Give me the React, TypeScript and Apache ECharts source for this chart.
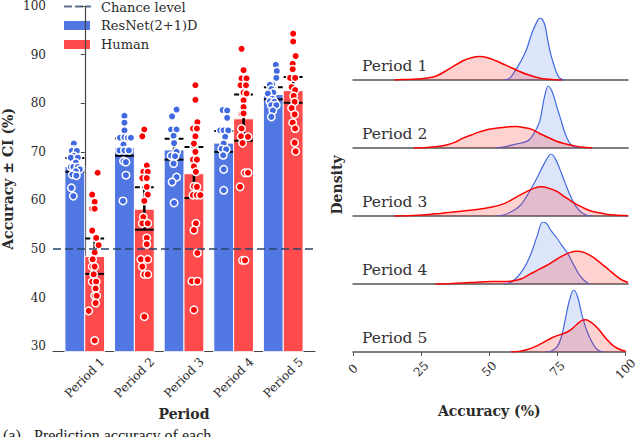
import React, { useEffect, useRef } from "react";
import * as echarts from "echarts";

const FONT = '"DejaVu Serif", serif';
const TEXT = "#2b2b2b";

const categories = ["Period 1", "Period 2", "Period 3", "Period 4", "Period 5"];
const yTicks = [30, 40, 50, 60, 70, 80, 90, 100];
const densityTicks = [0, 25, 50, 75, 100];
const chanceLevel = 50;

const resnetMean = [67.0, 70.9, 70.4, 71.8, 81.8];
const resnetCiLow = [65.9, 69.2, 68.4, 70.0, 80.8];
const resnetCiHigh = [68.75, 72.8, 72.7, 74.3, 83.3];
const humanMean = [48.5, 58.2, 65.5, 76.8, 82.6];
const humanCiLow = [44.9, 54.0, 60.5, 72.3, 80.1];
const humanCiHigh = [52.2, 62.7, 71.0, 81.8, 85.4];

// [accuracy, horizontal jitter in category units]
const resnetPoints = [
  [[71.7, -0.02], [70.5, -0.02], [70.2, -0.06], [70.2, 0.04], [69.2, -0.02], [68.8, -0.08], [68.8, 0.06], [67.8, 0.02], [66.9, -0.08], [66.9, -0.03], [66.9, 0.06], [66.4, 0.1], [66.0, 0.02], [65.3, -0.05], [65.1, 0.03], [62.6, -0.07], [60.9, -0.03]],
  [[77.4, 0], [76.0, 0], [74.4, 0], [72.9, -0.09], [73.0, 0], [72.9, 0.07], [72.9, 0.13], [71.5, -0.02], [70.3, -0.1], [70.3, 0], [70.3, 0.09], [68.1, -0.02], [67.9, 0.03], [65.2, 0.03], [59.9, -0.03]],
  [[78.7, 0.05], [77.3, -0.04], [74.6, -0.06], [74.6, 0.05], [73.3, -0.01], [71.8, 0], [70.0, 0.05], [69.2, -0.06], [69.1, 0.02], [67.6, -0.01], [64.8, 0.05], [63.8, -0.04], [59.5, 0]],
  [[78.6, -0.02], [78.5, 0.07], [77.0, 0.07], [74.4, -0.07], [74.4, 0], [74.4, 0.09], [73.1, 0.03], [71.7, 0], [70.6, -0.04], [70.5, 0.05], [69.3, -0.01], [66.4, 0], [62.1, 0]],
  [[87.9, 0.05], [86.6, 0.07], [85.2, 0.06], [83.9, -0.02], [83.8, -0.07], [82.9, -0.04], [82.2, 0], [82.0, -0.11], [80.9, -0.02], [80.4, -0.07], [80.3, 0.02], [79.6, -0.04], [79.6, 0.06], [78.5, -0.01], [77.2, -0.04]],
];

const humanPoints = [
  [[65.7, 0.06], [61.2, -0.05], [59.7, 0], [58.3, -0.05], [58.3, 0.0], [53.8, -0.05], [52.3, 0.03], [50.8, 0.08], [49.3, 0], [47.9, -0.04], [46.4, -0.05], [46.4, 0.0], [44.8, -0.02], [43.3, -0.05], [43.3, 0.03], [41.9, 0.02], [40.4, 0.0], [40.4, 0.04], [38.9, 0.02], [37.3, -0.12], [31.2, 0.0]],
  [[74.6, 0], [73.2, -0.04], [67.2, 0.05], [65.9, -0.02], [65.9, 0.07], [64.6, -0.04], [64.6, 0.05], [62.8, 0.05], [61.2, 0.07], [59.9, 0], [56.6, -0.02], [55.3, -0.04], [55.3, 0.07], [52.3, 0.05], [51.0, 0.05], [47.9, -0.07], [47.9, 0.07], [46.4, -0.04], [44.8, 0], [44.8, 0.07], [36.1, 0]],
  [[83.7, 0.03], [80.7, 0.03], [76.1, 0.07], [74.8, -0.02], [74.8, 0.06], [73.2, 0.03], [71.7, 0], [70.0, 0.03], [68.4, -0.02], [68.4, 0.06], [67.0, 0], [65.9, 0.04], [62.9, 0], [62.8, 0.06], [61.1, -0.02], [61.1, 0.06], [61.1, 0.13], [55.3, 0.04], [53.9, 0], [49.2, 0.07], [43.4, -0.04], [43.4, 0.07], [37.5, 0]],
  [[91.2, -0.04], [86.8, 0], [85.1, -0.04], [85.1, 0.06], [83.7, -0.06], [83.7, 0.05], [82.2, 0], [82.0, 0.06], [80.6, 0], [79.2, 0], [77.8, -0.04], [77.9, 0], [74.8, -0.04], [73.2, -0.05], [73.1, 0.09], [71.8, -0.02], [65.7, 0.03], [65.7, 0.09], [62.8, -0.07], [47.7, -0.02], [47.7, 0.03]],
  [[94.3, 0], [92.7, 0], [89.7, 0.05], [88.1, -0.01], [87.0, -0.01], [85.2, -0.06], [85.2, 0.04], [83.3, -0.03], [82.7, 0.04], [81.5, 0.01], [80.3, 0.03], [79.0, -0.03], [77.7, 0.03], [76.0, -0.01], [74.8, 0.04], [71.9, 0.03], [70.1, 0.05]],
];

// Ridge densities: [accuracy, height relative to the ResNet peak of that period]
const resnetDensity = [
  [[55, 0], [57, 0.03], [59, 0.15], [61, 0.3], [63, 0.48], [65, 0.75], [67, 0.95], [68, 1.0], [69, 0.97], [70, 0.85], [71, 0.6], [72, 0.4], [73, 0.25], [74, 0.12], [75, 0.04], [76, 0.01], [77, 0]],
  [[52, 0], [55, 0.02], [58, 0.05], [60, 0.07], [62, 0.09], [64, 0.13], [66, 0.25], [68, 0.45], [69.5, 0.8], [71, 1.0], [72.5, 0.9], [74, 0.68], [75.5, 0.47], [77, 0.25], [78.5, 0.1], [80, 0.03], [82, 0]],
  [[52, 0], [55, 0.02], [58, 0.08], [61, 0.18], [64, 0.38], [67, 0.62], [69, 0.8], [71, 0.96], [72, 1.0], [73.5, 0.93], [75, 0.78], [77, 0.55], [79, 0.33], [81, 0.16], [83, 0.06], [85, 0.01], [87, 0]],
  [[55, 0], [57, 0.02], [59, 0.08], [61, 0.18], [63, 0.32], [65, 0.52], [67, 0.78], [69, 1.0], [70.5, 0.97], [72, 0.86], [74, 0.75], [76, 0.62], [78, 0.5], [80, 0.33], [82, 0.17], [84, 0.06], [86, 0]],
  [[71, 0], [73, 0.02], [75, 0.09], [76.5, 0.25], [78, 0.55], [79.5, 0.85], [81, 1.0], [82.5, 0.88], [84, 0.6], [85.5, 0.38], [87, 0.22], [88.5, 0.1], [90, 0.03], [92, 0]],
];

const humanDensity = [
  [[15, 0], [20, 0.01], [25, 0.02], [30, 0.06], [35, 0.18], [40, 0.31], [43, 0.36], [46, 0.38], [49, 0.36], [52, 0.31], [55, 0.25], [58, 0.19], [61, 0.13], [64, 0.08], [67, 0.04], [70, 0.015], [73, 0.005], [76, 0]],
  [[22, 0], [27, 0.01], [30, 0.02], [34, 0.05], [37, 0.09], [40, 0.16], [43, 0.21], [46, 0.26], [49, 0.3], [52, 0.32], [56, 0.34], [59.5, 0.345], [62, 0.33], [65, 0.3], [68, 0.23], [71, 0.17], [74, 0.11], [77, 0.07], [80, 0.04], [83, 0.015], [87, 0]],
  [[15, 0], [20, 0.005], [25, 0.015], [30, 0.035], [35, 0.055], [40, 0.08], [45, 0.105], [50, 0.14], [55, 0.2], [60, 0.32], [63, 0.39], [66, 0.45], [68.5, 0.47], [71, 0.45], [74, 0.4], [77, 0.31], [80, 0.22], [83, 0.15], [86, 0.09], [89, 0.055], [92, 0.03], [95, 0.015], [100, 0.003]],
  [[30, 0], [35, 0.005], [40, 0.015], [45, 0.03], [50, 0.04], [55, 0.04], [58, 0.05], [61, 0.08], [64, 0.15], [67, 0.22], [70, 0.29], [73, 0.37], [76, 0.45], [79, 0.51], [81.5, 0.53], [84, 0.51], [87, 0.44], [90, 0.34], [93, 0.23], [96, 0.12], [98, 0.06], [100, 0.025]],
  [[58, 0], [61, 0.01], [64, 0.04], [67, 0.09], [70, 0.16], [73, 0.23], [76, 0.28], [78, 0.31], [80, 0.36], [82, 0.44], [84, 0.51], [85.5, 0.52], [87, 0.49], [89, 0.42], [91, 0.32], [93, 0.21], [95, 0.12], [97, 0.06], [99, 0.025], [100, 0.015]],
];

const BLUE_BAR = "#5177e3";
const RED_BAR = "#ff4b4b";
const BLUE_PT = "#4169e1";
const RED_PT = "#ff0000";
const CHANCE = "rgba(40,65,105,0.75)";

const Y_MIN = 28.9;
const Y_MAX = 100;
const OFFSET = 0.2;
const HALF = 0.2;
const ridgeBase = [80, 148, 216, 284, 352];
const ridgeHeight = 62;

function buildOption() {
  const barSeries = (means: number[], off: number, color: string) => ({
    type: "custom",
    xAxisIndex: 0,
    yAxisIndex: 0,
    z: 1,
    data: means.map((m, i) => [i + off, m]),
    encode: { x: 0, y: 1 },
    renderItem: (params: any, api: any) => {
      const x = api.value(0);
      const m = api.value(1);
      const p1 = api.coord([x - HALF, m]);
      const p2 = api.coord([x + HALF, Y_MIN]);
      return {
        type: "rect",
        shape: { x: p1[0], y: p1[1], width: p2[0] - p1[0], height: p2[1] - p1[1] },
        style: { fill: color, stroke: "#ffffff", lineWidth: 1 },
      };
    },
  });

  const errData: number[][] = [];
  categories.forEach((_, i) => {
    errData.push([i - OFFSET, resnetCiLow[i], resnetCiHigh[i]]);
    errData.push([i + OFFSET, humanCiLow[i], humanCiHigh[i]]);
  });

  const errSeries = {
    type: "custom",
    xAxisIndex: 0,
    yAxisIndex: 0,
    z: 3,
    data: errData,
    encode: { x: 0, y: [1, 2] },
    renderItem: (params: any, api: any) => {
      const x = api.value(0);
      const lo = api.value(1);
      const hi = api.value(2);
      const a = api.coord([x, lo]);
      const b = api.coord([x, hi]);
      const l = api.coord([x - HALF * 0.95, lo]);
      const r = api.coord([x + HALF * 0.95, lo]);
      const lh = api.coord([x - HALF * 0.95, hi]);
      const rh = api.coord([x + HALF * 0.95, hi]);
      return {
        type: "group",
        children: [
          { type: "line", shape: { x1: a[0], y1: a[1], x2: b[0], y2: b[1] }, style: { stroke: "#000", lineWidth: 2.5 } },
          { type: "line", shape: { x1: l[0], y1: l[1], x2: r[0], y2: r[1] }, style: { stroke: "#000", lineWidth: 2 } },
          { type: "line", shape: { x1: lh[0], y1: lh[1], x2: rh[0], y2: rh[1] }, style: { stroke: "#000", lineWidth: 2, lineDash: [5, 2] } },
        ],
      };
    },
    markLine: {
      silent: true,
      symbol: "none",
      label: { show: false },
      lineStyle: { color: CHANCE, width: 2, type: [8, 4] },
      data: [{ yAxis: chanceLevel }],
    },
  };

  const pointSeries = (pts: number[][][], off: number, color: string) => ({
    type: "scatter",
    xAxisIndex: 0,
    yAxisIndex: 0,
    z: 4,
    symbolSize: 7.5,
    itemStyle: { color, borderColor: "#ffffff", borderWidth: 1.5, opacity: 1 },
    data: pts.flatMap((arr, i) => arr.map(([v, j]) => [i + off + j, v])),
  });

  const grids: any[] = [{ left: 50, top: 5.5, width: 265, height: 346.2 }];
  const xAxes: any[] = [
    {
      gridIndex: 0,
      type: "value",
      min: -0.64,
      max: 4.64,
      axisLine: { show: true, lineStyle: { color: "#444", width: 1.2 } },
      axisTick: { show: false },
      splitLine: { show: false },
      axisLabel: {
        customValues: [0, 1, 2, 3, 4],
        formatter: (v: number) => categories[Math.round(v)],
        rotate: 45,
        align: "center",
        verticalAlign: "middle",
        margin: 26,
        fontFamily: FONT,
        fontSize: 12,
        color: TEXT,
      },
      name: "Period",
      nameLocation: "middle",
      nameGap: 49,
      nameTextStyle: { fontFamily: FONT, fontSize: 14, fontWeight: "bold", color: TEXT },
    },
  ];
  const yAxes: any[] = [
    {
      gridIndex: 0,
      type: "value",
      min: Y_MIN,
      max: Y_MAX,
      axisLine: { show: true, lineStyle: { color: "#444", width: 1.2 } },
      axisTick: { show: true, length: 4, customValues: yTicks, lineStyle: { color: "#444" } },
      axisLabel: { customValues: yTicks, fontFamily: FONT, fontSize: 12, color: TEXT, margin: 7 },
      splitLine: { show: false },
      name: "Accuracy ± CI (%)",
      nameLocation: "middle",
      nameGap: 38,
      nameTextStyle: { fontFamily: FONT, fontSize: 14, fontWeight: "bold", color: TEXT },
    },
  ];

  const series: any[] = [
    barSeries(resnetMean, -OFFSET, BLUE_BAR),
    barSeries(humanMean, OFFSET, RED_BAR),
    errSeries,
    pointSeries(resnetPoints, -OFFSET, BLUE_PT),
    pointSeries(humanPoints, OFFSET, RED_PT),
  ];

  categories.forEach((_, i) => {
    const gi = i + 1;
    const last = i === categories.length - 1;
    grids.push({ left: 353, width: 275, top: ridgeBase[i] - ridgeHeight, height: ridgeHeight });
    xAxes.push({
      gridIndex: gi,
      type: "value",
      min: 0,
      max: 100,
      axisLine: { show: true, lineStyle: { color: "#555", width: 1.5 } },
      axisTick: { show: last, length: 4, customValues: densityTicks, lineStyle: { color: "#555" } },
      axisLabel: {
        show: last,
        customValues: densityTicks,
        rotate: 45,
        align: "center",
        verticalAlign: "middle",
        margin: 17,
        fontFamily: FONT,
        fontSize: 12,
        color: TEXT,
      },
      splitLine: { show: false },
      name: last ? "Accuracy (%)" : "",
      nameLocation: "middle",
      nameGap: 52,
      nameTextStyle: { fontFamily: FONT, fontSize: 14, fontWeight: "bold", color: TEXT },
    });
    yAxes.push({ gridIndex: gi, type: "value", min: 0, max: 1, show: false });
    series.push({
      type: "line",
      xAxisIndex: gi,
      yAxisIndex: gi,
      data: resnetDensity[i],
      smooth: 0.35,
      showSymbol: false,
      z: 2,
      lineStyle: { color: BLUE_PT, width: 1.2 },
      areaStyle: { color: "rgba(65,105,225,0.25)" },
    });
    series.push({
      type: "line",
      xAxisIndex: gi,
      yAxisIndex: gi,
      data: humanDensity[i],
      smooth: 0.35,
      showSymbol: false,
      z: 3,
      lineStyle: { color: RED_PT, width: 1.5 },
      areaStyle: { color: "rgba(255,0,0,0.25)" },
    });
  });

  // Grid for the shared "Density" label
  grids.push({ left: 353, width: 275, top: 18, height: 334 });
  xAxes.push({ gridIndex: 6, type: "value", min: 0, max: 100, show: false });
  yAxes.push({
    gridIndex: 6,
    type: "value",
    min: 0,
    max: 1,
    axisLine: { show: false },
    axisTick: { show: false },
    axisLabel: { show: false },
    splitLine: { show: false },
    name: "Density",
    nameLocation: "middle",
    nameGap: 9,
    nameTextStyle: { fontFamily: FONT, fontSize: 14, fontWeight: "bold", color: TEXT },
  });

  const ridgeLabels = categories.map((c, i) => ({
    type: "text",
    left: 362,
    top: ridgeBase[i] - 22,
    z: 10,
    style: { text: c, font: `15.5px ${FONT}`, fill: "#333" },
  }));

  const legend = [
    { type: "line", shape: { x1: 64, y1: 6.5, x2: 91, y2: 6.5 }, style: { stroke: CHANCE, lineWidth: 2, lineDash: [8, 3] } },
    { type: "rect", shape: { x: 64, y: 21, width: 26, height: 9 }, style: { fill: BLUE_BAR } },
    { type: "rect", shape: { x: 64, y: 40, width: 26, height: 9 }, style: { fill: RED_BAR } },
    { type: "text", x: 101, y: 7, style: { text: "Chance level", font: `13px ${FONT}`, fill: TEXT, verticalAlign: "middle" } },
    { type: "text", x: 101, y: 25.5, style: { text: "ResNet(2+1)D", font: `13px ${FONT}`, fill: TEXT, verticalAlign: "middle" } },
    { type: "text", x: 101, y: 44.5, style: { text: "Human", font: `13px ${FONT}`, fill: TEXT, verticalAlign: "middle" } },
  ];

  const caption = [
    { type: "text", x: 3, y: 427.5, style: { text: "(a)", font: '16px "Liberation Serif", serif', fill: "#222", verticalAlign: "top" } },
    { type: "text", x: 34, y: 427.5, style: { text: "Prediction accuracy of each", font: '16px "Liberation Serif", serif', fill: "#222", verticalAlign: "top" } },
  ];

  return {
    animation: false,
    backgroundColor: "#ffffff",
    grid: grids,
    xAxis: xAxes,
    yAxis: yAxes,
    series,
    graphic: [...legend, ...ridgeLabels, ...caption],
  };
}

export default function App() {
  const ref = useRef<HTMLDivElement>(null);
  useEffect(() => {
    document.body.style.margin = "0";
    const chart = echarts.init(ref.current!, null, { renderer: "svg" });
    chart.setOption(buildOption() as any);
    return () => chart.dispose();
  }, []);
  return <div ref={ref} style={{ width: 640, height: 437 }} />;
}
